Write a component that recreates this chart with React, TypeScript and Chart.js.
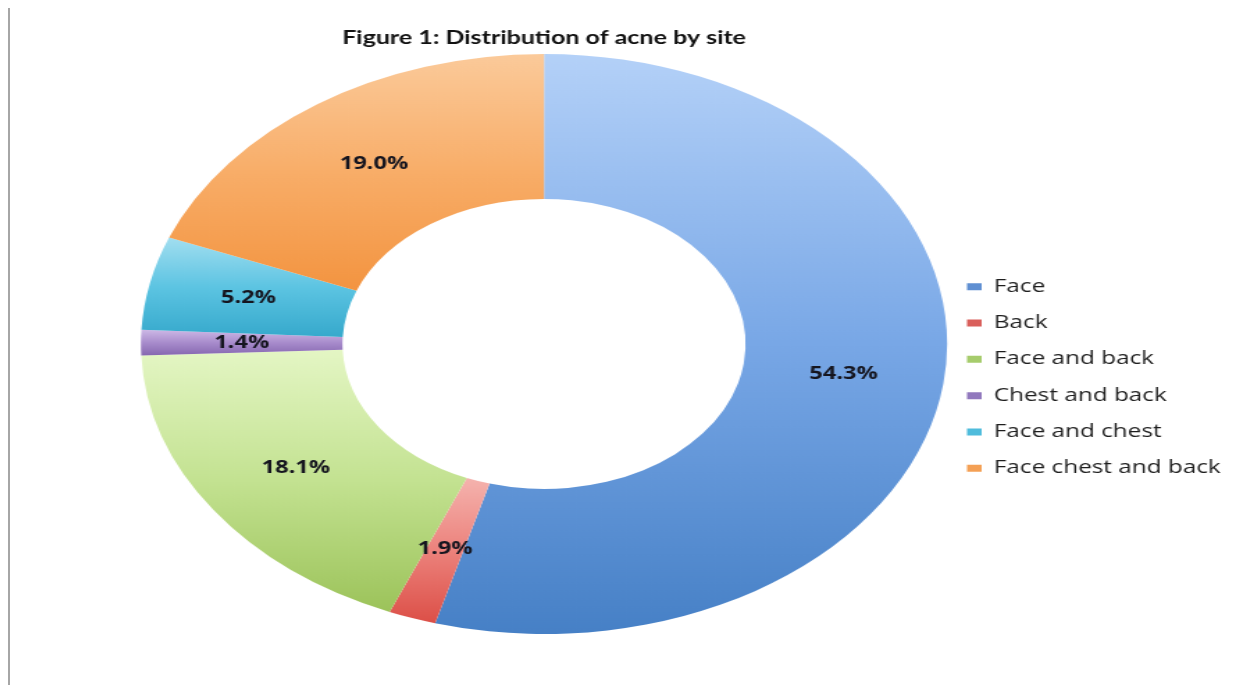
import React, { useEffect, useRef } from "react";
import { Chart, registerables } from "chart.js";

Chart.register(...registerables);

// ---- data ----
const categories = ["Face", "Back", "Face and back", "Chest and back", "Face and chest", "Face chest and back"];
const percentages = [54.3, 1.9, 18.1, 1.4, 5.2, 19.0];
const titleText = "Figure 1: Distribution of acne by site";

// ---- styles ----
const gradTop = ["#b4d1f8", "#f5b3ae", "#e4f6c4", "#cdb8e6", "#a2def0", "#fbca9a"];
const gradMid = ["#78a7e6", "#ec827c", "#c3e291", "#a88ccc", "#5cc4e2", "#f8ad68"];
const gradBottom = ["#4680c6", "#dc4f47", "#9cc35a", "#8667b0", "#36a9cc", "#f39440"];
const legendColors = ["#5f8fd2", "#d95f5b", "#a6cc6c", "#9178bd", "#4fbcdc", "#f4a055"];

const STRETCH = 1.39;
const CANVAS_W = 884;
const CANVAS_H = 688;
const CENTER_X = 384.2;
const RADIUS = 290;
const AREA_TOP = 48;
const AREA_BOTTOM = 628;
const LEGEND_FONT = 17.5;
const LEGEND_PAD = 18.8;
const LEGEND_BOX_W = 10.5;
const LEGEND_BOX_H = 7;
const LEGEND_MARKER_X = 688.5;
const LEGEND_CENTER_Y = 371.5;
const FONT_FAMILY = "'Open Sans', sans-serif";
const TITLE_FAMILY = "Lato, 'Open Sans', sans-serif";
const TITLE_SIZE = 18;
const TITLE_CENTER_Y = 32;

function arcYRange(el: any): [number, number] {
  const { y, startAngle: s, endAngle: e, innerRadius: ri, outerRadius: ro } = el;
  const ys: number[] = [];
  for (const r of [ri, ro]) for (const a of [s, e]) ys.push(y + r * Math.sin(a));
  for (let k = -2; k <= 2; k++) {
    const b = Math.PI / 2 + k * 2 * Math.PI;
    if (b > s && b < e) ys.push(y + ro);
    const t = -Math.PI / 2 + k * 2 * Math.PI;
    if (t > s && t < e) ys.push(y - ro);
  }
  return [Math.min(...ys), Math.max(...ys)];
}

const labelPlugin = {
  id: "pctLabels",
  afterDatasetsDraw(chart: any) {
    const ctx = chart.ctx;
    const meta = chart.getDatasetMeta(0);
    ctx.save();
    ctx.font = `bold 17px ${FONT_FAMILY}`;
    ctx.fillStyle = "#15151f";
    ctx.textAlign = "center";
    ctx.textBaseline = "middle";
    meta.data.forEach((arc: any, i: number) => {
      const p = arc.tooltipPosition(false);
      ctx.fillText(percentages[i].toFixed(1) + "%", p.x, p.y);
    });
    ctx.restore();
  },
};

export default function App() {
  const ref = useRef<HTMLCanvasElement | null>(null);

  useEffect(() => {
    if (!ref.current) return;
    const mc = document.createElement("canvas").getContext("2d")!;
    mc.font = `normal ${LEGEND_FONT}px ${FONT_FAMILY}`;
    const textW = Math.max(...categories.map((c) => mc.measureText(c).width));
    const legendLeft = LEGEND_MARKER_X - LEGEND_PAD;
    const legendWidth = LEGEND_PAD + LEGEND_BOX_W + LEGEND_FONT / 2 + textW + 10;
    const padRight = Math.max(0, CANVAS_W - legendLeft - legendWidth);
    const padLeft = 2 * CENTER_X - legendLeft;
    // legend spans 0..AREA_BOTTOM; an empty legend title shifts the items down
    const legendTitleH = 2 * LEGEND_CENTER_Y - AREA_BOTTOM;
    const titleLH = TITLE_SIZE * 1.2;
    const titlePadTop = TITLE_CENTER_Y - titleLH / 2;

    const chart = new Chart(ref.current, {
      type: "doughnut",
      data: {
        labels: categories,
        datasets: [
          {
            data: percentages,
            borderWidth: 0,
            hoverOffset: 0,
            offset: 0,
            clip: false as any,
            radius: RADIUS,
            cutout: "50%",
            backgroundColor: (c: any) => {
              const el = c.element;
              const i = c.dataIndex;
              if (!el || el.x === undefined || el.outerRadius === undefined) return gradMid[i];
              const [y0, y1] = arcYRange(el);
              const g = c.chart.ctx.createLinearGradient(0, y0, 0, y1 + 0.01);
              g.addColorStop(0, gradTop[i]);
              g.addColorStop(0.5, gradMid[i]);
              g.addColorStop(1, gradBottom[i]);
              return g;
            },
          } as any,
        ],
      },
      options: {
        animation: false,
        responsive: false,
        events: [],
        cutout: "50%",
        radius: RADIUS,
        layout: {
          padding: { top: 0, left: padLeft, right: padRight, bottom: CANVAS_H - AREA_BOTTOM },
        },
        plugins: {
          tooltip: { enabled: false },
          title: {
            display: true,
            fullSize: false,
            text: titleText,
            color: "#111",
            font: { family: TITLE_FAMILY, size: TITLE_SIZE, weight: "bold", lineHeight: 1.2 },
            padding: { top: titlePadTop, bottom: AREA_TOP - titlePadTop - titleLH },
          },
          legend: {
            display: true,
            position: "right",
            align: "center",
            title: {
              display: true,
              text: "",
              font: { size: 10, lineHeight: 1 },
              padding: { top: legendTitleH - 10, bottom: 0 },
            },
            labels: {
              boxWidth: LEGEND_BOX_W,
              boxHeight: LEGEND_BOX_H,
              padding: LEGEND_PAD,
              color: "#1e1e1e",
              font: { family: FONT_FAMILY, size: LEGEND_FONT },
              generateLabels: () =>
                categories.map((text, i) => ({
                  text,
                  fillStyle: legendColors[i],
                  strokeStyle: legendColors[i],
                  lineWidth: 0,
                  hidden: false,
                  index: i,
                  fontColor: "#1e1e1e",
                })),
            },
          },
        },
      } as any,
      plugins: [labelPlugin],
    });
    chart.update();
    return () => chart.destroy();
  }, []);

  return (
    <div
      style={{
        marginTop: -4,
        marginBottom: -10,
        width: 1229,
        height: CANVAS_H,
        overflow: "hidden",
        borderLeft: "2px solid #a6a6a6",
        borderTop: "2px solid #a9a9a9",
        borderRight: "1px solid #e8e8e8",
        borderBottom: "1px solid #eeeeee",
        background: "#fff",
      }}
    >
      <div style={{ transform: `scaleX(${STRETCH})`, transformOrigin: "0 0", width: CANVAS_W, height: CANVAS_H }}>
        <canvas ref={ref} width={CANVAS_W} height={CANVAS_H} style={{ display: "block" }} />
      </div>
    </div>
  );
}
